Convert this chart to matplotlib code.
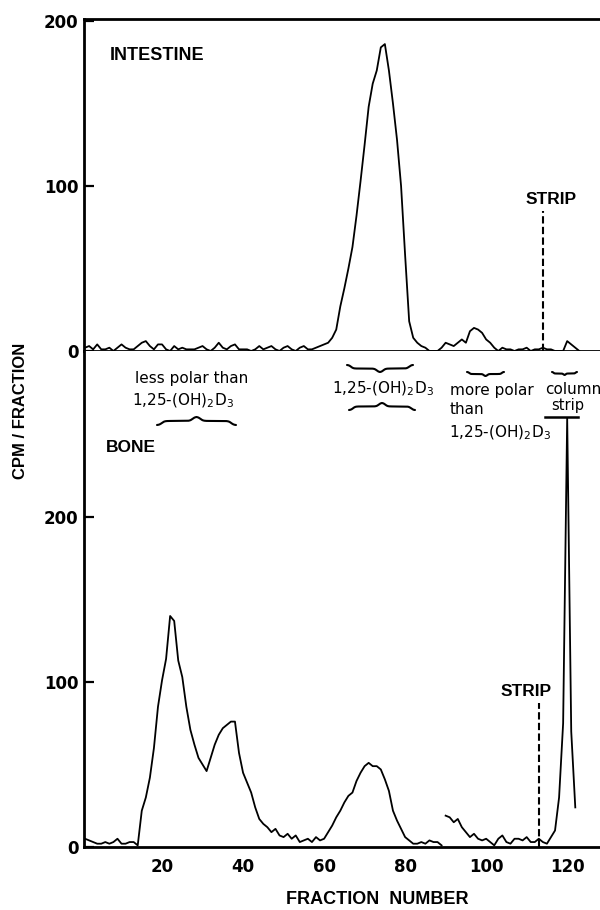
import numpy as np
import matplotlib
matplotlib.use('Agg')
import matplotlib.pyplot as plt

# fraction numbers and counts
intestine_fraction = list(range(1, 124))
intestine_cpm = [2, 3, 1, 4, 1, 1, 2, 0, 2, 4, 2, 1, 1, 3, 5, 6, 3, 1, 4, 4,
                 1, 0, 3, 1, 2, 1, 1, 1, 2, 3, 1, 0, 2, 5, 2, 1, 3, 4, 1, 1,
                 1, 0, 1, 3, 1, 2, 3, 1, 0, 2, 3, 1, 0, 2, 3, 1, 1, 2, 3, 4,
                 5, 8, 13, 27, 38, 50, 63, 82, 103, 125, 148, 162, 170, 184, 186, 170, 150, 128, 100, 58,
                 18, 8, 5, 3, 2, 0, 0, 0, 2, 5, 4, 3, 5, 7, 5, 12, 14, 13, 11, 7,
                 5, 2, 0, 2, 1, 1, 0, 1, 1, 2, 0, 1, 1, 2, 1, 1, 0, 0, 0, 6,
                 4, 2, 0]

bone_fraction_a = list(range(1, 90))
bone_cpm_a = [5, 4, 3, 2, 2, 3, 2, 3, 5, 2, 2, 3, 3, 1, 22, 30, 42, 60, 85, 101,
              114, 140, 137, 113, 103, 85, 71, 62, 54, 50, 46, 54, 62, 68, 72, 74, 76, 76, 57, 45,
              39, 33, 24, 17, 14, 12, 9, 11, 7, 6, 8, 5, 7, 3, 4, 5, 3, 6, 4, 5,
              9, 13, 18, 22, 27, 31, 33, 40, 45, 49, 51, 49, 49, 47, 41, 34, 22, 16, 11, 6,
              4, 2, 2, 3, 2, 4, 3, 3, 1]

bone_fraction_b = list(range(90, 123))
bone_cpm_b = [19, 18, 15, 17, 12, 9, 6, 8, 5, 4, 5, 3, 1, 5, 7, 3, 2, 5, 5, 4,
              6, 3, 3, 5, 3, 2, 6, 10, 30, 75, 260, 70, 24]

x_ticks = [20, 40, 60, 80, 100, 120]
strip_top = (114, 85)    # fraction, height of dashed marker
strip_bone = (113, 87)

W, H = 600, 910
fig = plt.figure(figsize=(6, 9.1), dpi=100)

ax_top = fig.add_axes([84 / W, 1 - 351 / H, 1 - 84 / W, (351 - 19) / H])
ax_bot = fig.add_axes([84 / W, 1 - 847 / H, 1 - 84 / W, (847 - 351) / H])

tickfont = dict(family='DejaVu Sans', weight='bold', size=12)
capsfont = dict(family=['Liberation Sans', 'DejaVu Sans'], weight='bold')
smallfont = dict(family='DejaVu Sans', size=11)

for ax in (ax_top, ax_bot):
    ax.set_xlim(0.74, 128.1)
    ax.spines['right'].set_visible(False)
    for s in ('left', 'top', 'bottom'):
        ax.spines[s].set_linewidth(2)
    ax.set_yticks([0, 100, 200])
    ax.set_xticks(x_ticks)
    ax.tick_params(axis='y', direction='in', length=7, width=1.6, pad=4)
    for lab in ax.get_yticklabels():
        lab.set(**tickfont)

ax_top.set_ylim(0, 201.2)
ax_bot.set_ylim(0, 300.6)
ax_bot.spines['top'].set_visible(False)

ax_top.tick_params(axis='x', direction='out', length=6, width=1.6, labelbottom=False)
ax_bot.tick_params(axis='x', length=0, pad=8)
ax_bot.set_xticklabels([str(t) for t in x_ticks])
for lab in ax_bot.get_xticklabels():
    lab.set(**tickfont)

ax_top.plot(intestine_fraction, intestine_cpm, color='black', lw=1.3, clip_on=False)
ax_bot.plot(bone_fraction_a, bone_cpm_a, color='black', lw=1.3)
ax_bot.plot(bone_fraction_b, bone_cpm_b, color='black', lw=1.3)

ax_top.vlines(strip_top[0], 0, strip_top[1], colors='black', lw=1.5, linestyles=(0, (3.5, 1.6)))
ax_bot.vlines(strip_bone[0], 0, strip_bone[1], colors='black', lw=1.5, linestyles=(0, (3.5, 1.6)))

# overlay in pixel coordinates for the lettering and braces
ov = fig.add_axes([0, 0, 1, 1], zorder=5)
ov.set_xlim(0, W)
ov.set_ylim(H, 0)
ov.axis('off')


def brace(x0, x1, y, h, tip_up=True):
    t = np.linspace(0, 1, 120)
    k = 28
    prof = 1 / (1 + np.exp(-k * (t - 0.12))) + 1 / (1 + np.exp(-k * (t - 0.9)))
    prof = (prof - prof[0]) / (prof[-1] - prof[0])
    xs = x0 + t * (x1 - x0) / 2
    xs = np.concatenate([xs, (x0 + x1) - xs[::-1]])
    p = np.concatenate([prof, prof[::-1]])
    sign = -1 if tip_up else 1
    ov.plot(xs, y + sign * p * h, color='black', lw=1.5, solid_capstyle='round')


D3 = r'1,25-(OH)$_\mathregular{2}$D$_\mathregular{3}$'

ov.text(157, 55, 'INTESTINE', ha='center', va='center', size=13, **capsfont)
ov.text(131, 448, 'BONE', ha='center', va='center', size=12.5, **capsfont)
ov.text(551, 200, 'STRIP', ha='center', va='center', size=12.5, **capsfont)
ov.text(526, 692, 'STRIP', ha='center', va='center', size=12.5, **capsfont)
ov.text(21, 411, 'CPM / FRACTION', ha='center', va='center', rotation=90, size=12, **capsfont)
ov.text(377, 900, 'FRACTION  NUMBER', ha='center', va='center', size=13, **capsfont)

ov.text(135, 383, 'less polar than', ha='left', va='baseline', **smallfont)
ov.text(132, 405, D3, ha='left', va='baseline', **smallfont)
brace(157, 236, 425, 8, tip_up=True)

ov.text(332, 393, D3, ha='left', va='baseline', **smallfont)
brace(347, 413, 365, 7, tip_up=False)
brace(349, 415, 410, 7, tip_up=True)

ov.text(450, 395, 'more polar', ha='left', va='baseline', **smallfont)
ov.text(450, 414, 'than', ha='left', va='baseline', **smallfont)
ov.text(449, 437, D3, ha='left', va='baseline', **smallfont)
brace(467, 504, 372, 4, tip_up=False)

ov.text(545, 394, 'column', ha='left', va='baseline', **smallfont)
ov.text(551, 410, 'strip', ha='left', va='baseline', size=10.5, family='DejaVu Sans')
brace(552, 577, 372, 3, tip_up=False)
ov.plot([545, 578], [417, 417], color='black', lw=1.8)

fig.savefig('out.png', dpi=100)
